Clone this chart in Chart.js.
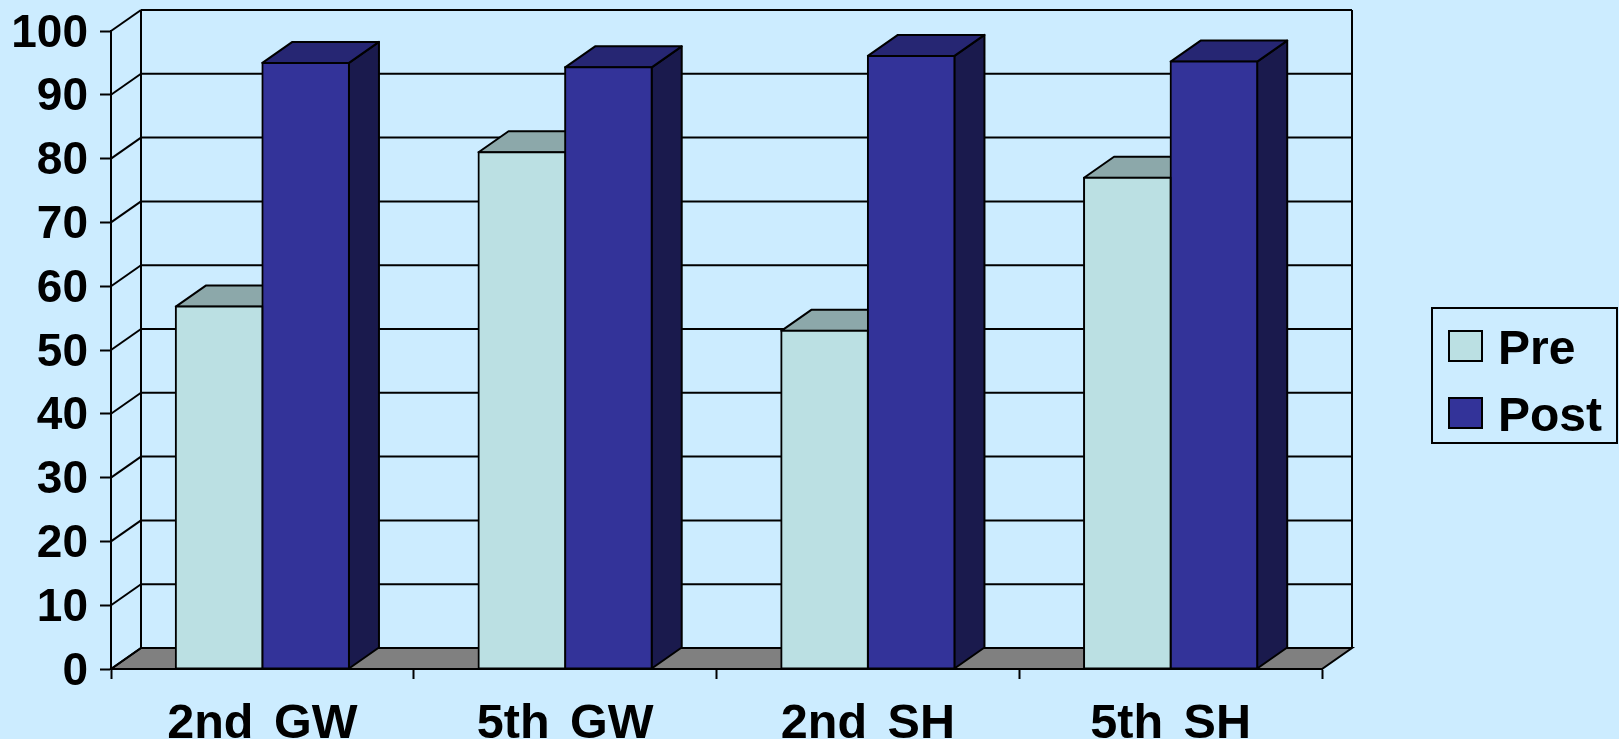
<!DOCTYPE html>
<html>
<head>
<meta charset="utf-8">
<title>Pre and Post scores</title>
<script src="https://cdn.jsdelivr.net/npm/chart.js@4"></script>
<style>
    html, body { margin: 0; padding: 0; background: #CCECFF; }
    canvas { display: block; }
</style>
</head>
<body>
<canvas id="scoresChart" width="1619" height="739"></canvas>
<script>
// Chart values
const categories = ['2nd GW', '5th GW', '2nd SH', '5th SH'];
const preValues = [56.8, 81, 53, 77];
const postValues = [95, 94.3, 96.1, 95.2];
const yTicks = [0, 10, 20, 30, 40, 50, 60, 70, 80, 90, 100];

// How far the back of the box is pushed from the front
const depthX = 30;
const depthY = -21;

const black = '#000000';
const fontFamily = '"Liberation Sans", Arial, sans-serif';

function face(ctx, points, fill) {
    ctx.beginPath();
    ctx.moveTo(points[0][0], points[0][1]);
    for (let i = 1; i < points.length; i++) {
        ctx.lineTo(points[i][0], points[i][1]);
    }
    ctx.closePath();
    if (fill) {
        ctx.fillStyle = fill;
        ctx.fill();
    }
    ctx.stroke();
}

function line(ctx, x1, y1, x2, y2) {
    ctx.beginPath();
    ctx.moveTo(x1, y1);
    ctx.lineTo(x2, y2);
    ctx.stroke();
}

// Canvas text sits a little high with the middle baseline, so nudge the y labels onto their ticks
const labelNudgePlugin = {
    id: 'labelNudge',
    afterUpdate(chart) {
        chart.scales.y.getLabelItems(chart.chartArea).forEach(function (item) {
            item.textOffset += 3;
        });
    },
    beforeDraw(chart) {
        // wider gap between the words of the category labels
        chart.ctx.wordSpacing = '7px';
    }
};

// Back wall, side wall and floor, behind the bars
const wallsPlugin = {
    id: 'walls',
    beforeDatasetsDraw(chart) {
        const ctx = chart.ctx;
        const x = chart.scales.x;
        const y = chart.scales.y;
        const zero = y.getPixelForValue(0);
        const top = y.getPixelForValue(100);

        ctx.save();
        ctx.strokeStyle = black;
        ctx.lineWidth = 2;

        face(ctx, [
            [x.left, zero],
            [x.left + depthX, zero + depthY],
            [x.right + depthX, zero + depthY],
            [x.right, zero]
        ], '#808080');

        yTicks.forEach(function (tick) {
            const py = y.getPixelForValue(tick);
            line(ctx, x.left, py, x.left + depthX, py + depthY);
            line(ctx, x.left + depthX, py + depthY, x.right + depthX, py + depthY);
        });

        line(ctx, x.left + depthX, top + depthY, x.left + depthX, zero + depthY);
        line(ctx, x.right + depthX, top + depthY, x.right + depthX, zero + depthY);
        ctx.restore();
    }
};

// Top and side faces of each bar; the front faces are drawn by the bar elements
const barDepthPlugin = {
    id: 'barDepth',
    beforeDatasetsDraw(chart) {
        const ctx = chart.ctx;
        ctx.save();
        ctx.strokeStyle = black;
        ctx.lineWidth = 2;
        ctx.lineJoin = 'round';
        chart.data.datasets.forEach(function (dataset, d) {
            chart.getDatasetMeta(d).data.forEach(function (bar) {
                const left = bar.x - bar.width / 2;
                const right = bar.x + bar.width / 2;
                face(ctx, [
                    [right, bar.y],
                    [right + depthX, bar.y + depthY],
                    [right + depthX, bar.base + depthY],
                    [right, bar.base]
                ], dataset.sideColor);
                face(ctx, [
                    [left, bar.y],
                    [left + depthX, bar.y + depthY],
                    [right + depthX, bar.y + depthY],
                    [right, bar.y]
                ], dataset.topColor);
            });
        });
        ctx.restore();
    }
};

// Boxed legend to the right of the plot
const legendBoxPlugin = {
    id: 'legendBox',
    afterDraw(chart) {
        const ctx = chart.ctx;
        ctx.save();
        ctx.strokeStyle = black;
        ctx.lineWidth = 2;
        ctx.strokeRect(1432, 308, 185, 135);
        ctx.font = 'bold 48px ' + fontFamily;
        ctx.textBaseline = 'middle';
        chart.data.datasets.forEach(function (dataset, d) {
            const rowY = 346 + d * 67;
            ctx.fillStyle = dataset.backgroundColor;
            ctx.fillRect(1449, rowY - 15, 33, 30);
            ctx.strokeRect(1449, rowY - 15, 33, 30);
            ctx.fillStyle = black;
            ctx.fillText(dataset.label, 1498, rowY + 5);
        });
        ctx.restore();
    }
};

const ctx = document.getElementById('scoresChart').getContext('2d');

const scoresChart = new Chart(ctx, {
    type: 'bar',
    data: {
        labels: categories,
        datasets: [
            {
                label: 'Pre',
                data: preValues,
                backgroundColor: '#BBE0E3',
                topColor: '#8CA8AA',
                sideColor: '#5E7072'
            }, {
                label: 'Post',
                data: postValues,
                backgroundColor: '#333399',
                topColor: '#262673',
                sideColor: '#1A1A4D'
            }]
    },
    plugins: [labelNudgePlugin, wallsPlugin, barDepthPlugin, legendBoxPlugin],
    options: {
        responsive: false,
        animation: false,
        layout: {
            padding: { top: 31, right: 297 }
        },
        datasets: {
            bar: {
                barPercentage: 1,
                categoryPercentage: 0.572,
                borderColor: black,
                borderWidth: 2,
                borderSkipped: false,
                inflateAmount: 1
            }
        },
        plugins: {
            legend: { display: false },
            tooltip: { enabled: false }
        },
        scales: {
            x: {
                afterFit: function (scale) {
                    scale.height = 70;
                    scale.paddingTop = 0;
                    scale.paddingBottom = 0;
                },
                border: { color: black, width: 2 },
                grid: {
                    drawOnChartArea: false,
                    tickLength: 10,
                    tickColor: black,
                    tickWidth: 2
                },
                ticks: {
                    color: black,
                    padding: 17,
                    maxRotation: 0,
                    font: { family: fontFamily, size: 48.5, weight: 'bold' }
                }
            },
            y: {
                min: 0,
                max: 100,
                afterFit: function (scale) {
                    scale.width = 111;
                    scale.paddingTop = 0;
                    scale.paddingBottom = 0;
                },
                afterBuildTicks: function (scale) {
                    scale.ticks = yTicks.map(function (v) { return { value: v }; });
                },
                border: { color: black, width: 2 },
                grid: {
                    drawOnChartArea: false,
                    tickLength: 11,
                    tickColor: black,
                    tickWidth: 2
                },
                ticks: {
                    color: black,
                    padding: 12,
                    font: { family: fontFamily, size: 46, weight: 'bold' }
                }
            }
        }
    }
});
</script>
</body>
</html>
